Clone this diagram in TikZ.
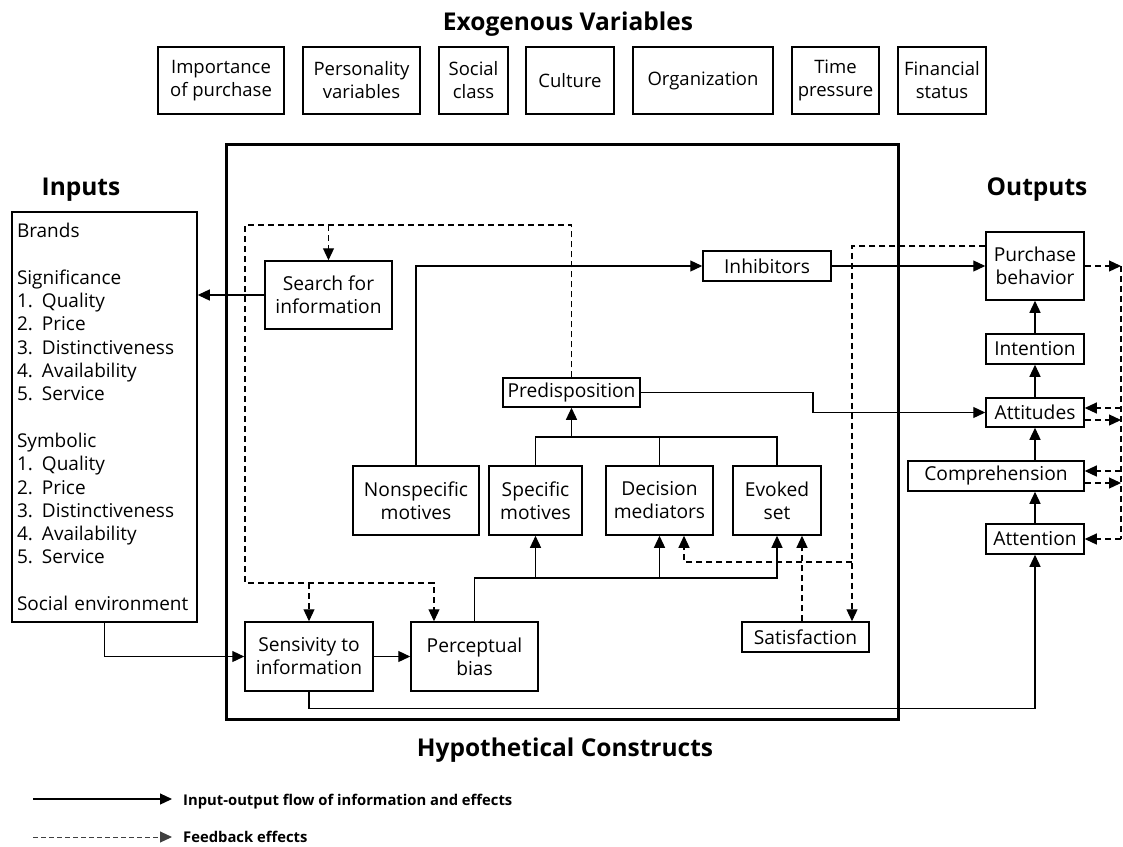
\documentclass[tikz,border=0pt]{standalone}
\usepackage{fontspec}
\setmainfont{Open Sans}
\usetikzlibrary{arrows.meta,calc}
\newcommand\itm[1]{\makebox[25pt][l]{#1}}
\begin{document}
\begin{tikzpicture}[x=1pt,y=-1pt,
  box/.style={draw, line width=1.5pt, inner sep=0pt, align=center, font=\fontsize{19.2}{23}\selectfont},
  exo/.style={box, font=\fontsize{18.5}{23}\selectfont, minimum height=67},
  ln/.style={line width=1.25pt},
  flow/.style={ln, -{Triangle[length=12pt,width=11pt]}},
  fbk/.style={line width=1.15pt, dash pattern=on 6pt off 4pt},
  fbarrow/.style={fbk, -{Triangle[length=12pt,width=11pt]}},
  ttl/.style={font=\fontsize{24.5}{28}\selectfont\bfseries, anchor=base},
  leg/.style={font=\fontsize{14.8}{17}\selectfont\bfseries, anchor=base west, inner sep=0pt}
]
\useasboundingbox (0,0) rectangle (1123,846);

% titles
\node[ttl] (t1) at (568,30) {Exogenous Variables};
\node[ttl] (t2) at (81,195) {Inputs};
\node[ttl] (t3) at (1037,195) {Outputs};
\node[ttl] (t4) at (565,756) {Hypothetical Constructs};

% exogenous boxes
\node[exo, minimum width=126] (imp) at (221,80.5) {Importance\\of purchase};
\node[exo, minimum width=117] (pers) at (361.5,80.5) {Personality\\variables};
\node[exo, minimum width=69] (soc) at (473.5,80.5) {Social\\class};
\node[exo, minimum width=88] (cul) at (570,80.5) {Culture};
\node[exo, minimum width=140] (org) at (703,80.5) {Organization};
\node[exo, minimum width=87] (tim) at (835.5,80.5) {Time\\pressure};
\node[exo, minimum width=88] (fin) at (942,80.5) {Financial\\status};

% frame
\node[draw, line width=3pt, minimum width=672, minimum height=575, inner sep=0pt] (frame) at (562,431.5) {};

% inputs
\node[draw, line width=1.5pt, minimum width=185, minimum height=410, text width=175, inner xsep=5pt, inner ysep=0pt, align=left, font=\fontsize{19}{23.3}\selectfont] (inp) at (104.5,417) {Brands\\[23.3pt]Significance\\\itm{1.}Quality\\\itm{2.}Price\\\itm{3.}Distinctiveness\\\itm{4.}Availability\\\itm{5.}Service\\[23.3pt]Symbolic\\\itm{1.}Quality\\\itm{2.}Price\\\itm{3.}Distinctiveness\\\itm{4.}Availability\\\itm{5.}Service\\[23.3pt]Social environment};

% hypothetical constructs
\node[box, minimum width=127, minimum height=68] (search) at (328.5,295) {Search for\\information};
\node[box, minimum width=128, minimum height=30] (inhib) at (767,266) {Inhibitors};
\node[box, minimum width=137, minimum height=29] (pred) at (571.5,392.5) {Predisposition};
\node[box, minimum width=126, minimum height=69] (nonspec) at (416,500.5) {Nonspecific\\motives};
\node[box, minimum width=93, minimum height=69] (spec) at (535.5,500.5) {Specific\\motives};
\node[box, minimum width=107, minimum height=69] (dec) at (659.5,500.5) {Decision\\mediators};
\node[box, minimum width=88, minimum height=69] (evok) at (777,500.5) {Evoked\\set};
\node[box, minimum width=128, minimum height=69] (sens) at (309,656.5) {Sensivity to\\information};
\node[box, minimum width=127, minimum height=69] (perc) at (474.5,656.5) {Perceptual\\bias};
\node[box, minimum width=127, minimum height=30] (sat) at (805.5,637) {Satisfaction};

% outputs
\node[box, minimum width=98, minimum height=68] (purch) at (1035,266) {Purchase\\behavior};
\node[box, minimum width=98, minimum height=30] (intent) at (1035,349) {Intention};
\node[box, minimum width=98, minimum height=29] (att) at (1035,412.5) {Attitudes};
\node[box, minimum width=176, minimum height=30] (comp) at (996,476) {Comprehension};
\node[box, minimum width=98, minimum height=30] (atten) at (1035,539) {Attention};

% helper coordinates
\coordinate (pb) at (0,578);
\coordinate (pj) at (0,437);
\coordinate (pk) at (813,0);
\coordinate (ft) at (0,225);
\coordinate (fl) at (245,0);
\coordinate (fb) at (0,583);
\coordinate (px) at (434,583);
\coordinate (dv) at (852,0);
\coordinate (dh) at (0,562);
\coordinate (rx) at (1121,0);
\coordinate (ev2) at ($(evok.south)+(25,0)$);
\coordinate (dm2) at ($(dec.south)+(24.5,0)$);
\coordinate (pw) at ($(purch.west)+(0,-20)$);
\coordinate (ai) at ([yshift=4.5pt]att.east);
\coordinate (ao) at ([yshift=-7.5pt]att.east);
\coordinate (ci) at ([yshift=5pt]comp.east);
\coordinate (co) at ([yshift=-7pt]comp.east);

% solid flows
\draw[flow] (search.west) -- (search.west -| inp.east);
\draw[flow] (inp.south) |- (sens.west);
\draw[flow] (sens.east) -- (perc.west);
\draw[flow] (sens.south) -- ++(0,17) -| (atten.south);
\draw[flow] (perc.north) |- (evok.south |- pb) -- (evok.south);
\draw[flow] (spec.south |- pb) -- (spec.south);
\draw[flow] (dec.south |- pb) -- (dec.south);
\draw[ln] (spec.north) |- (evok.north |- pj) -- (evok.north);
\draw[ln] (dec.north) -- (dec.north |- pj);
\draw[flow] (pred.south |- pj) -- (pred.south);
\draw[flow] (nonspec.north) |- (inhib.west);
\draw[flow] (inhib.east) -- (purch.west);
\draw[flow] (pred.east) -- (pred.east -| pk) |- (att.west);
\draw[flow] (atten.north) -- (atten.north |- comp.south);
\draw[flow] (att.south |- comp.north) -- (att.south);
\draw[flow] (att.north) -- (intent.south);
\draw[flow] (intent.north) -- (purch.south);

% feedback
\draw[fbarrow] (pred.north) |- (fl |- ft) -- (fl |- fb) -- (px) -- (px |- perc.north);
\draw[fbarrow] (search.north |- ft) -- (search.north);
\draw[fbarrow] (sens.north |- fb) -- (sens.north);
\draw[fbarrow] (pw) -| (dv |- sat.north);
\draw[fbarrow] (dv |- dh) -| (dm2);
\draw[fbarrow] (ev2 |- sat.north) -- (ev2);
\draw[fbarrow] (purch.east) -- (purch.east -| rx);
\draw[fbk] (purch.east -| rx) -- (rx |- atten.east);
\draw[fbarrow] (rx |- atten.east) -- (atten.east);
\draw[fbarrow] (rx |- ai) -- (ai);
\draw[fbarrow] (ao) -- (ao -| rx);
\draw[fbarrow] (rx |- ci) -- (ci);
\draw[fbarrow] (co) -- (co -| rx);

% legend
\coordinate (la1) at (33,799);
\coordinate (la2) at (172,799);
\coordinate (lb1) at (33,837);
\coordinate (lb2) at (172,837);
\draw[flow] (la1) -- (la2);
\draw[line width=1pt, black!75, dash pattern=on 5pt off 3pt, -{Triangle[length=12pt,width=11pt]}] (lb1) -- (lb2);
\node[leg] (lg1) at (183,805) {Input-output flow of information and effects};
\node[leg] (lg2) at (183,842) {Feedback effects};
\end{tikzpicture}
\end{document}
